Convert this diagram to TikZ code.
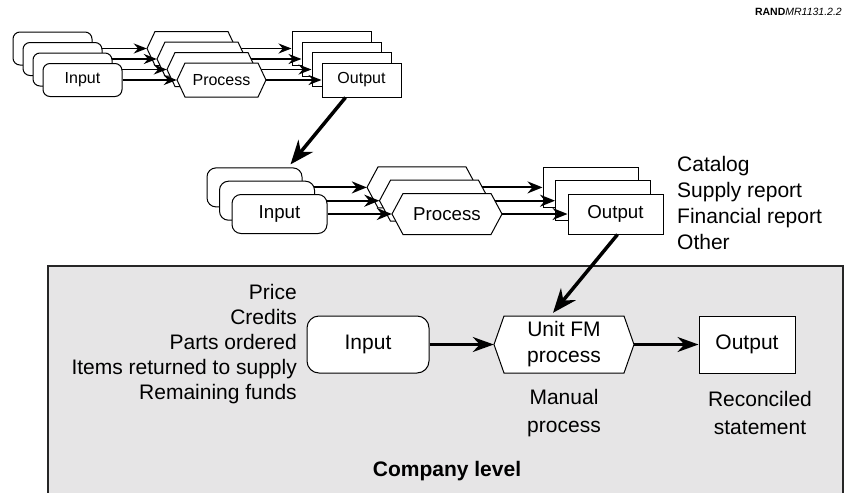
\documentclass[tikz,border=0pt]{standalone}
\usepackage{fontspec}
\setmainfont{Liberation Sans}
\usetikzlibrary{arrows.meta}

% hexagonal process box: name, cx, cy, width, height, chamfer, node style, text
\newcommand\hexnode[8]{%
  \path[shapeline]
    ({(#2)-(#4)/2},{#3})
    -- ({(#2)-(#4)/2+(#6)},{(#3)-(#5)/2})
    -- ({(#2)+(#4)/2-(#6)},{(#3)-(#5)/2})
    -- ({(#2)+(#4)/2},{#3})
    -- ({(#2)+(#4)/2-(#6)},{(#3)+(#5)/2})
    -- ({(#2)-(#4)/2+(#6)},{(#3)+(#5)/2})
    -- cycle;
  \node[#7, inner sep=0pt, minimum width=#4pt, minimum height=#5pt] (#1) at ({#2},{#3}) {#8};%
}

\begin{document}
\begin{tikzpicture}[x=1pt, y=-1pt,
  shapeline/.style={draw=black, fill=white, line width=1pt, line join=miter},
  inbox/.style={shapeline, rectangle, inner sep=0pt},
  outbox/.style={shapeline, rectangle, inner sep=0pt},
  topfont/.style={font=\fontsize{16}{19}\selectfont},
  midfont/.style={font=\fontsize{18.7}{22}\selectfont},
  botfont/.style={font=\fontsize{21}{26}\selectfont},
  flowT/.style={line width=1.8pt, -{Stealth[length=13pt, width=10pt]}},
  flowM/.style={line width=2pt, -{Stealth[length=15pt, width=12pt]}},
  flowB/.style={line width=2.4pt, -{Stealth[length=21pt, width=15pt]}},
  bigarrow/.style={line width=3.5pt, -{Stealth[length=24pt, width=19pt]}},
  panelline/.style={draw=black!85, line width=1.5pt},
  listtext/.style={inner sep=0pt, font=\fontsize{21}{25}\selectfont},
  sidetext/.style={inner sep=0pt, font=\fontsize{21}{26.3}\selectfont},
  notetext/.style={inner sep=0pt, font=\fontsize{21}{28}\selectfont, align=center}
]
\definecolor{panelgray}{RGB}{230,229,230}
\useasboundingbox (0,0) rectangle (847,493);

% series number
\node[anchor=east, inner sep=0pt, font=\fontsize{10.5}{12}\selectfont] (tag) at (842,12)
  {\textbf{RAND}\textit{MR1131.2.2}};

% company-level panel (runs off the bottom edge)
\fill[panelgray] (48,266) rectangle (843,493);
\draw[panelline] (48,493) -- (48,266) -- (843,266) -- (843,493);

% upper stack: four layers, back to front
\foreach \i in {0,1,2,3}{
  \pgfmathsetmacro\ox{(\i-3)*10}
  \pgfmathsetmacro\oy{(\i-3)*10.5}
  \node[inbox, topfont, rounded corners=7pt, minimum width=79pt, minimum height=33pt]
    (iT\i) at ({82.5+\ox},{80+\oy}) {\ifnum\i=3 Input\fi};
  \hexnode{pT\i}{221.5+\ox}{80+\oy}{89}{34}{8}{topfont}{\ifnum\i=3 Process\fi}
  \node[outbox, topfont, minimum width=79pt, minimum height=34pt]
    (oT\i) at ({361.5+\ox},{80+\oy}) {\ifnum\i=3 Output\fi};
  \draw[flowT] (iT\i.east) -- (pT\i.west);
  \draw[flowT] (pT\i.east) -- (oT\i.west);
}

% middle stack: three layers, back to front
\foreach \i in {0,1,2}{
  \pgfmathsetmacro\ox{(\i-2)*12.5}
  \pgfmathsetmacro\oy{(\i-2)*13.3}
  \node[inbox, midfont, rounded corners=9pt, minimum width=95pt, minimum height=39pt]
    (iM\i) at ({279.5+\ox},{214+\oy}) {\ifnum\i=2 Input\fi};
  \hexnode{pM\i}{447+\ox}{214+\oy}{110}{41}{11}{midfont}{\ifnum\i=2 Process\fi}
  \node[outbox, midfont, minimum width=95pt, minimum height=40pt]
    (oM\i) at ({615.5+\ox},{214+\oy}) {\ifnum\i=2 Output\fi};
  \draw[flowM] (iM\i.east) -- (pM\i.west);
  \draw[flowM] (pM\i.east) -- (oM\i.west);
}

% report list beside the middle stack
\node[sidetext, anchor=west, align=left] (reports) at (677,203)
  {Catalog\\Supply report\\Financial report\\Other};

% company-level flow
\node[inbox, botfont, rounded corners=12pt, minimum width=122pt, minimum height=57pt]
  (iB) at (368,344.5) {Input};
\hexnode{hB}{564}{344.5}{140}{57}{10}{botfont, align=center}{Unit FM\\process}
\node[outbox, botfont, minimum width=96pt, minimum height=57pt]
  (oB) at (747,344.5) {Output};
\draw[flowB] (iB.east) -- (hB.west);
\draw[flowB] (hB.east) -- (oB.west);

\node[listtext, anchor=east, align=right] (inputs) at (297,344)
  {Price\\Credits\\Parts ordered\\Items returned to supply\\Remaining funds};
\node[notetext] (manual) at (564,413) {Manual\\process};
\node[notetext] (recon) at (760,413) {Reconciled\\statement};
\node[inner sep=0pt, font=\fontsize{21}{24}\selectfont\bfseries] (level) at (447,471) {Company level};

% links between levels
\draw[bigarrow] ([xshift=-16pt]oT3.south) -- ([xshift=-12pt, yshift=3pt]iM0.north east);
\draw[bigarrow] ([xshift=2pt]oM2.south) -- ([xshift=-11pt, yshift=3pt]hB.north);
\end{tikzpicture}
\end{document}
